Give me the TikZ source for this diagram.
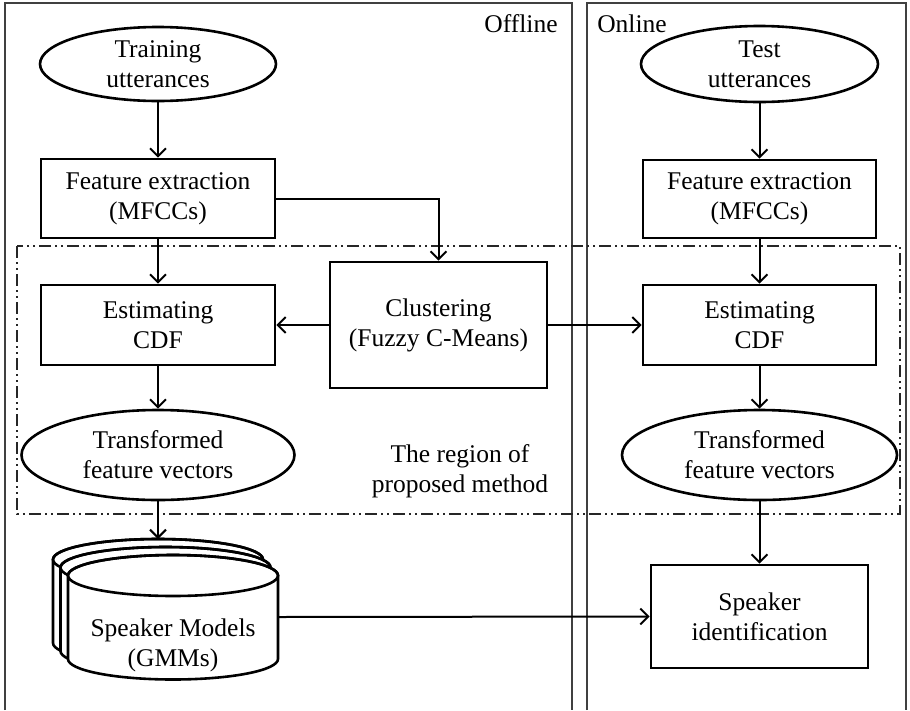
\documentclass[tikz,border=0pt]{standalone}
\usepackage{fontspec}
\setmainfont{Liberation Serif}
\usetikzlibrary{shapes.geometric,arrows.meta}
\newcommand\mycyl[3]{%
  \filldraw[fill=white, line width=2.6pt] (#1-105,#2) -- (#1-105,#3)
    arc[start angle=180,end angle=360,x radius=105pt,y radius=20.5pt]
    -- (#1+105,#2)
    arc[start angle=0,end angle=180,x radius=105pt,y radius=20.5pt] -- cycle;
  \draw[line width=2.6pt] (#1,#2) ellipse[x radius=105pt,y radius=20.5pt];}
\begin{document}
\begin{tikzpicture}[x=1pt,y=-1pt,
  every node/.style={font=\fontsize{25.5}{30}\selectfont, align=center, inner sep=0pt},
  procbox/.style={draw, line width=2.6pt, rectangle},
  ellbox/.style={draw, line width=2.6pt, ellipse},
  arr/.style={line width=2pt, -{Straight Barb[length=8pt,width=16pt]}},
  frame/.style={draw=black!75, line width=1.4pt},
  region/.style={draw=black!85, line width=1.4pt, dash pattern=on 12pt off 4pt on 2pt off 4pt on 2pt off 4pt}]
\useasboundingbox (0,0) rectangle (910,710);
\fill[white] (0,0) rectangle (910,710);
% frames
\draw[frame] (5,710) -- (5,3) -- (572,3) -- (572,710);
\draw[frame] (587,710) -- (587,3) -- (906,3) -- (906,710);
\node (offl) at (521,24) {Offline};
\node (onl) at (632,24) {Online};
% region
\draw[region] (17,246) rectangle (900,514);
\node (regionlbl) at (460,471) {The region of\\proposed method};
% left column
\node[ellbox, minimum width=236pt, minimum height=74pt] (train) at (158,64) {Training\\utterances};
\node[procbox, minimum width=234pt, minimum height=79pt] (featL) at (158,198.5) {Feature extraction\\(MFCCs)};
\node[procbox, minimum width=234pt, minimum height=80pt] (estL) at (158,325) {Estimating\\CDF};
\node[ellbox, minimum width=273pt, minimum height=90pt] (transL) at (158,455) {Transformed\\feature vectors};
% cylinders
\mycyl{158}{559.5}{643}
\mycyl{165.5}{567.5}{651}
\mycyl{173}{575.5}{659}
\node (models) at (173,645) {Speaker Models\\(GMMs)};
\coordinate (mtop) at (158,539);
\coordinate (mE) at (278,617);
% middle
\node[procbox, minimum width=217pt, minimum height=126pt] (clust) at (438.5,325) {Clustering\\(Fuzzy C-Means)};
% right column
\node[ellbox, minimum width=237pt, minimum height=76pt] (test) at (759.5,64) {Test\\utterances};
\node[procbox, minimum width=233pt, minimum height=78pt] (featR) at (759.5,199) {Feature extraction\\(MFCCs)};
\node[procbox, minimum width=233pt, minimum height=80pt] (estR) at (759.5,325) {Estimating\\CDF};
\node[ellbox, minimum width=275pt, minimum height=90pt] (transR) at (759.5,455) {Transformed\\feature vectors};
\node[procbox, minimum width=217pt, minimum height=103pt] (sid) at (759.5,616.5) {Speaker\\identification};
% connectors
\draw[arr] (train.south) -- (featL.north);
\draw[arr] (featL.south) -- (estL.north);
\draw[arr] (estL.south) -- (transL.north);
\draw[arr] (transL.south) -- (mtop);
\draw[arr] (featL.east) -| (clust.north);
\draw[arr] (clust.west) -- (estL.east);
\draw[arr] (clust.east) -- (estR.west);
\draw[arr] (test.south) -- (featR.north);
\draw[arr] (featR.south) -- (estR.north);
\draw[arr] (estR.south) -- (transR.north);
\draw[arr] (transR.south) -- (sid.north);
\draw[arr] (mE) -- (sid.west);
\end{tikzpicture}
\end{document}
